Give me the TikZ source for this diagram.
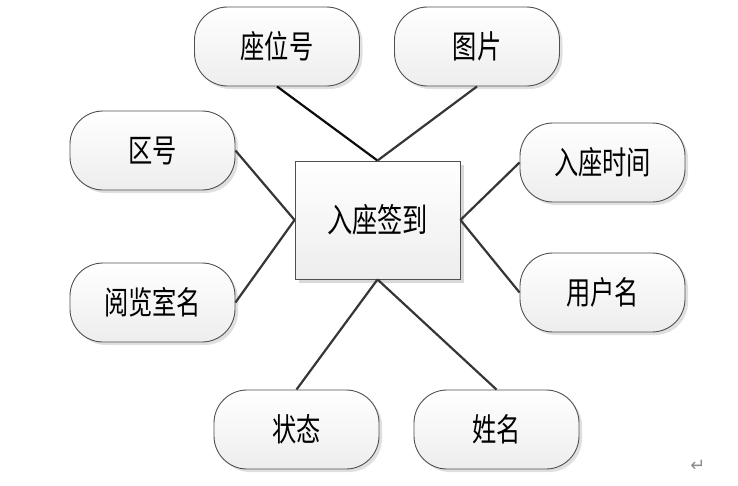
\documentclass[tikz,border=0pt]{standalone}
\usepackage{fontspec}
\newfontfamily\cjk{Noto Sans CJK SC}
\newfontfamily\dejavu{DejaVu Sans}
\usetikzlibrary{shadows}
\definecolor{linec}{HTML}{363636}
\definecolor{edgec}{HTML}{505050}
\newcommand{\tall}[1]{\scalebox{0.97}[1.28]{#1}}
\tikzset{
  attr/.style={draw=edgec, line width=0.9pt, rounded corners=33pt, minimum width=165pt, minimum height=79pt,
    top color=white, bottom color=black!7, font=\cjk\fontsize{25}{25}\selectfont, inner sep=0pt,
    drop shadow={shadow xshift=3pt, shadow yshift=-3pt, fill=black!12, opacity=1}},
  ent/.style={draw=edgec, line width=0.9pt, minimum width=165pt, minimum height=118pt,
    top color=white, bottom color=black!7, font=\cjk\fontsize{26}{26}\selectfont, inner sep=0pt,
    drop shadow={shadow xshift=4pt, shadow yshift=-4pt, fill=black!15, opacity=1}},
  conn/.style={draw=linec, line width=2.2pt}
}
\begin{document}
\begin{tikzpicture}[x=1pt,y=-1pt]
\useasboundingbox (0,0) rectangle (738,485);
\node[ent] (c) at (377.5,220) {\tall{入座签到}};
\node[attr] (a1) at (277,46.5) {\tall{座位号}};
\node[attr] (a2) at (477,46.5) {\tall{图片}};
\node[attr] (a3) at (152.5,150.5) {\tall{区号}};
\node[attr] (a4) at (152.5,302.5) {\tall{阅览室名}};
\node[attr] (a5) at (602.5,162.5) {\tall{入座时间}};
\node[attr] (a6) at (602.5,292.5) {\tall{用户名}};
\node[attr] (a7) at (296.5,429.5) {\tall{状态}};
\node[attr] (a8) at (496.5,429.5) {\tall{姓名}};
\draw[conn, draw=black!95] (a1.south) -- (c.north);
\draw[conn] (a2.south) -- (c.north);
\draw[conn] (a3.east) -- (c.west);
\draw[conn] (a4.east) -- (c.west);
\draw[conn] (a5.west) -- (c.east);
\draw[conn] (a6.west) -- (c.east);
\draw[conn] (a7.north) -- (c.south);
\draw[conn] (a8.north) -- (c.south);
\node[font=\dejavu\fontsize{18}{18}\selectfont, text=black!45, inner sep=0pt] (ret) at (698,466) {↵};
\end{tikzpicture}
\end{document}
